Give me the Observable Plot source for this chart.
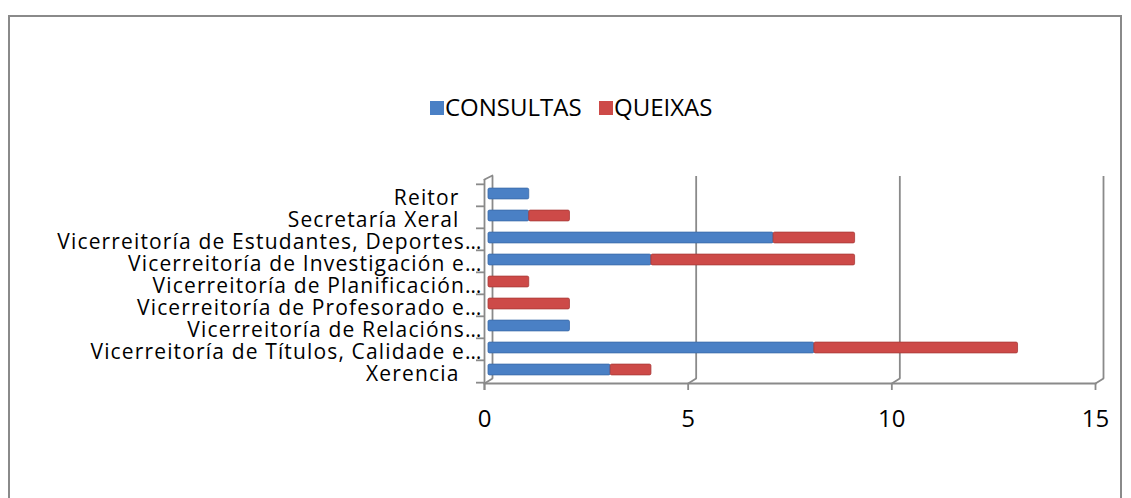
<!DOCTYPE html>
<html>
<head>
<meta charset="utf-8">
<script src="https://cdn.jsdelivr.net/npm/d3@7"></script>
<script src="https://cdn.jsdelivr.net/npm/@observablehq/plot@0.6"></script>
<style>
  html, body { margin: 0; padding: 0; background: #fff; overflow: hidden; }
  body { width: 1131px; height: 498px; position: relative; font-family: "Open Sans", sans-serif; }
  #frame { position: absolute; left: 8px; top: 15px; width: 1114px; height: 600px; box-sizing: border-box; border: 2px solid #8a8a8a; }
  .sw { position: absolute; width: 14px; height: 14px; top: 101px; }
  .lt { position: absolute; top: 95px; font-size: 24px; line-height: 24px; color: #000; white-space: nowrap; }
  #chart { position: absolute; left: 0; top: 150px; }
  #chart g[aria-label="y-axis tick label"] text { letter-spacing: 1.15px; }
</style>
</head>
<body>
<div id="frame"></div>
<div id="legend"></div>
<div id="chart"></div>
<script>
const categories = [
  "Reitor",
  "Secretaría Xeral",
  "Vicerreitoría de Estudantes, Deportes…",
  "Vicerreitoría de Investigación e…",
  "Vicerreitoría de Planificación…",
  "Vicerreitoría de Profesorado e…",
  "Vicerreitoría de Relacións…",
  "Vicerreitoría de Títulos, Calidade e…",
  "Xerencia"
];
const seriesNames = ["CONSULTAS", "QUEIXAS"];
const consultas = [1, 1, 7, 4, 0, 0, 2, 8, 3];
const queixas   = [0, 1, 2, 5, 1, 2, 0, 5, 1];
const xTicks = [0, 5, 10, 15];
const colors = ["#4a80c5", "#cd4a48"];
const strokes = ["#3a6aa8", "#a83a38"];

const rows = [];
categories.forEach((c, i) => {
  rows.push({cat: c, serie: seriesNames[0], value: consultas[i]});
  rows.push({cat: c, serie: seriesNames[1], value: queixas[i]});
});

// legend
const legend = document.getElementById("legend");
const legendX = [[430, 445], [599, 614]];
seriesNames.forEach((s, i) => {
  const sw = document.createElement("div");
  sw.className = "sw";
  sw.style.left = legendX[i][0] + "px";
  sw.style.background = colors[i];
  legend.appendChild(sw);
  const t = document.createElement("div");
  t.className = "lt";
  t.style.left = legendX[i][1] + "px";
  t.textContent = s;
  legend.appendChild(t);
});

const W = 1131, H = 348;
const mT = 32, mB = 115, mL = 488, mR = 32;
const bw = (H - mT - mB) / categories.length;
const gray = "#8a8a8a";
const ellip = categories.filter(c => c.endsWith("…"));
const plain = categories.filter(c => !c.endsWith("…"));

const chart = Plot.plot({
  width: W, height: H,
  marginTop: mT, marginBottom: mB, marginLeft: mL, marginRight: mR,
  style: {fontFamily: "'Open Sans', sans-serif", color: "#000", background: "transparent"},
  x: {domain: [0, 15], axis: null},
  y: {domain: categories, padding: 0, axis: null},
  color: {domain: seriesNames, range: colors},
  marks: [
    // back-wall gridlines
    Plot.ruleX(xTicks, {x: d => d, dx: 4, insetTop: -6, insetBottom: 5, stroke: gray, strokeWidth: 1.8}),
    // floor joints
    Plot.vector(xTicks, {x: d => d, frameAnchor: "bottom", dx: -4, length: 9.4, rotate: 58, r: 0, stroke: gray, strokeWidth: 1.8, anchor: "start"}),
    // floor front edge
    Plot.frame({anchor: "bottom", dx: -4, stroke: gray, strokeWidth: 1.8}),
    // front left axis line
    Plot.ruleX([0], {dx: -4, insetTop: -3, insetBottom: -7, stroke: gray, strokeWidth: 1.8}),
    Plot.vector([0], {x: d => d, frameAnchor: "top", dx: -4, dy: -3, length: 8.9, rotate: 63, r: 0, stroke: gray, strokeWidth: 1.8, anchor: "start"}),
    // bars
    Plot.barX(rows, {y: "cat", x: "value", fill: "serie", stroke: d => d.serie === seriesNames[0] ? strokes[0] : strokes[1], strokeWidth: 0.8, insetTop: 5.6, insetBottom: 5.6, dy: -1.5, rx: 1.5}),
    // y boundary ticks
    Plot.axisY(categories, {tickSize: 8, dx: -4, dy: -bw / 2, tickFormat: () => "", label: null, stroke: gray, strokeWidth: 1.8}),
    Plot.axisY([categories[categories.length - 1]], {tickSize: 8, dx: -4, dy: bw / 2, tickFormat: () => "", label: null, stroke: gray, strokeWidth: 1.8}),
    // y labels
    Plot.axisY(ellip, {tickSize: 0, tickPadding: 6, dy: 2.5, fontSize: 21, label: null, fill: "#000"}),
    Plot.axisY(plain, {tickSize: 0, tickPadding: 29, dy: 2.5, fontSize: 21, label: null, fill: "#000"}),
    // x ticks and labels
    Plot.axisX(xTicks, {tickSize: 7, tickPadding: 19, dx: -4, fontSize: 24, label: null, stroke: gray, strokeWidth: 1.8, fill: "#000"})
  ]
});
document.getElementById("chart").appendChild(chart);
</script>
</body>
</html>
